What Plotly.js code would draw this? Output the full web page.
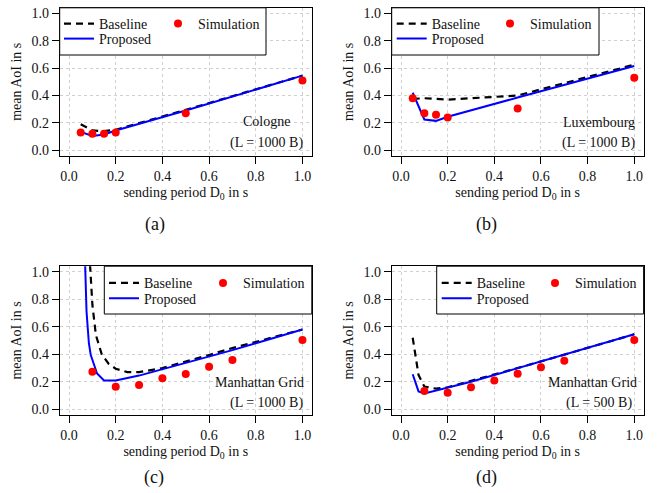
<!DOCTYPE html>
<html>
<head>
<meta charset="utf-8">
<script src="https://cdn.plot.ly/plotly-3.0.1.min.js"></script>
<style>html,body{margin:0;padding:0;background:#fff;}#chart{width:665px;height:493px;}</style>
</head>
<body>
<div id="chart"></div>
<script>
// ---------- data ----------
const D_cologne = [0.05, 0.1, 0.15, 0.2, 0.5, 1.0];
const baseline_cologne = [0.19, 0.145, 0.14, 0.15, 0.295, 0.545];
const proposed_cologne = [0.135, 0.105, 0.115, 0.145, 0.29, 0.545];
const simulation_cologne = [0.13, 0.12, 0.12, 0.13, 0.27, 0.51];

const D_lux = [0.05, 0.1, 0.15, 0.2, 0.5, 1.0];
const baseline_lux = [0.375, 0.38, 0.375, 0.37, 0.40, 0.625];
const proposed_lux = [0.42, 0.225, 0.215, 0.245, 0.385, 0.615];
const simulation_lux = [0.38, 0.27, 0.26, 0.24, 0.305, 0.53];

const D_man1000_base = [0.09, 0.1, 0.115, 0.14, 0.17, 0.2, 0.25, 0.3, 0.4, 0.5, 0.6, 0.7, 0.8, 0.9, 1.0];
const baseline_man1000 = [1.05, 0.76, 0.54, 0.40, 0.33, 0.295, 0.27, 0.27, 0.30, 0.345, 0.395, 0.445, 0.49, 0.535, 0.58];
const D_man1000_prop = [0.069, 0.075, 0.085, 0.093, 0.1, 0.12, 0.15, 0.2, 0.3, 0.4, 0.5, 0.6, 0.7, 0.8, 0.9, 1.0];
const proposed_man1000 = [1.05, 0.71, 0.48, 0.395, 0.36, 0.26, 0.21, 0.21, 0.245, 0.29, 0.335, 0.38, 0.43, 0.48, 0.53, 0.58];
const D_man1000_sim = [0.1, 0.2, 0.3, 0.4, 0.5, 0.6, 0.7, 1.0];
const simulation_man1000 = [0.273, 0.164, 0.177, 0.225, 0.257, 0.31, 0.358, 0.504];

const D_man500_base = [0.05, 0.06, 0.075, 0.1, 0.15, 0.2, 0.3, 0.4, 0.5, 0.6, 0.7, 0.8, 0.9, 1.0];
const baseline_man500 = [0.52, 0.40, 0.25, 0.165, 0.15, 0.16, 0.205, 0.252, 0.30, 0.348, 0.397, 0.445, 0.495, 0.545];
const D_man500_prop = [0.05, 0.075, 0.1, 0.2, 0.3, 0.4, 0.5, 0.6, 0.7, 0.8, 0.9, 1.0];
const proposed_man500 = [0.255, 0.13, 0.115, 0.155, 0.2, 0.249, 0.298, 0.346, 0.395, 0.443, 0.494, 0.545];
const D_man500_sim = [0.1, 0.2, 0.3, 0.4, 0.5, 0.6, 0.7, 1.0];
const simulation_man500 = [0.133, 0.121, 0.16, 0.21, 0.259, 0.305, 0.353, 0.504];

const tickVals = [0, 0.2, 0.4, 0.6, 0.8, 1.0];
const tickText = ['0.0', '0.2', '0.4', '0.6', '0.8', '1.0'];
const scenarioLine1 = ['Cologne', 'Luxembourg', 'Manhattan Grid', 'Manhattan Grid'];
const scenarioLine2 = ['(L = 1000 B)', '(L = 1000 B)', '(L = 1000 B)', '(L = 500 B)'];
const captions = ['(a)', '(b)', '(c)', '(d)'];
const seriesNames = ['Baseline', 'Proposed', 'Simulation'];

// ---------- styling ----------
const FONT = 'Liberation Serif, Times New Roman, serif';
const W = 665, H = 493;
const px = v => v / W;
const py = v => 1 - v / H;

const panels = [
  {bx: D_cologne, by: baseline_cologne, px_: D_cologne, py_: proposed_cologne, sx: D_cologne, sy: simulation_cologne},
  {bx: D_lux, by: baseline_lux, px_: D_lux, py_: proposed_lux, sx: D_lux, sy: simulation_lux},
  {bx: D_man1000_base, by: baseline_man1000, px_: D_man1000_prop, py_: proposed_man1000, sx: D_man1000_sim, sy: simulation_man1000},
  {bx: D_man500_base, by: baseline_man500, px_: D_man500_prop, py_: proposed_man500, sx: D_man500_sim, sy: simulation_man500}
];

// plot-box pixel geometry [left, right, top, bottom]
const boxes = [
  [59.7, 311.8, 7.8, 155.8],
  [391.7, 643.6, 7.8, 155.8],
  [59.7, 311.8, 266.2, 414.8],
  [391.7, 643.6, 266.2, 414.8]
];
// legend positions: [leftCol x, rightCol x, row1 y, row2 y], box [x0,x1,y0,y1] in px
const legendPos = [
  {c1: 59, c2: 158, r1: 24, r2: 39, box: [59.7, 266, 7.8, 55]},
  {c1: 391.7, c2: 490, r1: 24, r2: 39, box: [391.7, 599, 7.8, 55]},
  {c1: 104, c2: 203, r1: 283.3, r2: 298.7, box: [104.3, 311.8, 266.2, 314]},
  {c1: 436.7, c2: 535, r1: 283.3, r2: 298.7, box: [436.7, 643.6, 266.2, 314]}
];
const annPos = [
  {l1: [266, 121.7], l2: [266.5, 143.3], cap: [155, 224]},
  {l1: [598.5, 122.3], l2: [598.5, 143.3], cap: [486.7, 224]},
  {l1: [259.7, 382.3], l2: [266.7, 402.7], cap: [154, 477]},
  {l1: [592, 382.3], l2: [598.7, 402.7], cap: [486.7, 477]}
];

const traces = [];
const layout = {
  width: W, height: H,
  margin: {l: 0, r: 0, t: 0, b: 0},
  paper_bgcolor: '#ffffff',
  plot_bgcolor: '#ffffff',
  font: {family: FONT, size: 14, color: '#111'},
  showlegend: true,
  shapes: [],
  annotations: []
};

panels.forEach((p, i) => {
  const n = i + 1;
  const xa = n === 1 ? 'x' : 'x' + n;
  const ya = n === 1 ? 'y' : 'y' + n;
  const lgA = i * 3 + 1, lgB = i * 3 + 2, lgC = i * 3 + 3;
  const lname = k => (k === 1 ? 'legend' : 'legend' + k);

  traces.push({
    x: p.bx, y: p.by, xaxis: xa, yaxis: ya, type: 'scatter', mode: 'lines',
    name: seriesNames[0], legend: lname(lgA),
    line: {color: '#000000', width: 2.2, dash: '7px,5px'}
  });
  traces.push({
    x: p.px_, y: p.py_, xaxis: xa, yaxis: ya, type: 'scatter', mode: 'lines',
    name: seriesNames[1], legend: lname(lgB),
    line: {color: '#0000ff', width: 2}
  });
  traces.push({
    x: p.sx, y: p.sy, xaxis: xa, yaxis: ya, type: 'scatter', mode: 'markers',
    name: seriesNames[2], legend: lname(lgC),
    marker: {color: '#ff0000', size: 8}
  });

  const b = boxes[i];
  const axKeyX = n === 1 ? 'xaxis' : 'xaxis' + n;
  const axKeyY = n === 1 ? 'yaxis' : 'yaxis' + n;
  const common = {
    range: [-0.04, 1.04], autorange: false,
    tickmode: 'array', tickvals: tickVals, ticktext: tickText,
    showline: true, mirror: true, linecolor: '#000', linewidth: 1,
    ticks: 'outside', ticklen: 7, tickcolor: '#000', tickwidth: 1,
    showgrid: true, gridcolor: '#d0d0d0', griddash: 'dot', gridwidth: 1,
    zeroline: false,
    tickfont: {family: FONT, size: 14, color: '#111'}
  };
  layout[axKeyX] = Object.assign({}, common, {
    domain: [px(b[0]), px(b[1])], anchor: ya,
    title: {text: 'sending period D<sub>0</sub> in s', font: {family: FONT, size: 14, color: '#111'}, standoff: 4}
  });
  layout[axKeyY] = Object.assign({}, common, {
    domain: [py(b[3]), py(b[2])], anchor: xa,
    title: {text: 'mean AoI in s', font: {family: FONT, size: 14, color: '#111'}, standoff: 6}
  });

  // legend box
  const lp = legendPos[i];
  layout.shapes.push({
    type: 'rect', xref: 'paper', yref: 'paper', layer: 'above',
    x0: px(lp.box[0]), x1: px(lp.box[1]), y0: py(lp.box[3]), y1: py(lp.box[2]),
    line: {color: '#000', width: 1}, fillcolor: '#ffffff'
  });
  const legCommon = {
    bgcolor: 'rgba(0,0,0,0)', borderwidth: 0, xanchor: 'left', yanchor: 'middle',
    font: {family: FONT, size: 14, color: '#111'}, itemclick: false, itemdoubleclick: false
  };
  layout[lname(lgA)] = Object.assign({}, legCommon, {x: px(lp.c1), y: py(lp.r1)});
  layout[lname(lgB)] = Object.assign({}, legCommon, {x: px(lp.c1), y: py(lp.r2)});
  layout[lname(lgC)] = Object.assign({}, legCommon, {x: px(lp.c2), y: py(lp.r1)});

  const ap = annPos[i];
  layout.annotations.push({
    xref: 'paper', yref: 'paper', x: px(ap.l1[0]), y: py(ap.l1[1]), xanchor: 'center', yanchor: 'middle',
    text: scenarioLine1[i], showarrow: false, font: {family: FONT, size: 14, color: '#111'}
  });
  layout.annotations.push({
    xref: 'paper', yref: 'paper', x: px(ap.l2[0]), y: py(ap.l2[1]), xanchor: 'center', yanchor: 'middle',
    text: scenarioLine2[i], showarrow: false, font: {family: FONT, size: 14, color: '#111'}
  });
  layout.annotations.push({
    xref: 'paper', yref: 'paper', x: px(ap.cap[0]), y: py(ap.cap[1]), xanchor: 'center', yanchor: 'middle',
    text: captions[i], showarrow: false, font: {family: FONT, size: 18, color: '#111'}
  });
});

Plotly.newPlot('chart', traces, layout, {staticPlot: true, displayModeBar: false});
</script>
</body>
</html>
